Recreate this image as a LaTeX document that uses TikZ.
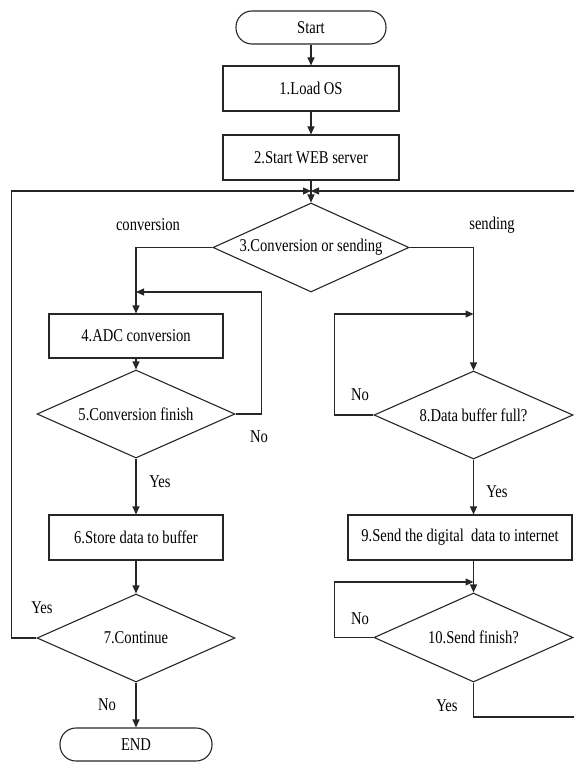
\documentclass[tikz,border=0pt]{standalone}
\usepackage{fontspec}
\setmainfont{Liberation Serif}[FakeStretch=0.81]
\usetikzlibrary{shapes.geometric,arrows.meta}
\begin{document}
\begin{tikzpicture}[x=1pt,y=-1pt,
  font=\fontsize{18}{20}\selectfont,
  every node/.style={inner sep=0pt},
  ln/.style={draw=black!85, line width=1.1pt},
  boxn/.style={ln, rectangle, minimum height=45pt},
  term/.style={ln, rectangle, rounded corners=16pt, minimum width=150pt, minimum height=33pt},
  dia/.style={ln, diamond, aspect=2.2, minimum width=198pt, minimum height=88pt},
  con/.style={draw=black!85, line width=1.1pt},
  arr/.style={con, -{Triangle[length=8pt,width=7pt]}}
]
\useasboundingbox (0,0) rectangle (574,762);
\clip (0,0) rectangle (574,762);

% main column
\node[term] (start) at (311,27.5) {Start};
\node[boxn, minimum width=176pt] (b1) at (311,88.5) {1.Load OS};
\node[boxn, minimum width=176pt] (b2) at (311,157.5) {2.Start WEB server};
\coordinate (J) at (311,191);
\node[dia, minimum width=196pt, minimum height=89pt] (d3) at (311,247.5) {3.Conversion or sending};

% left column
\node[boxn, minimum width=174pt, minimum height=44pt] (b4) at (136,336) {4.ADC conversion};
\node[dia] (d5) at (136,414) {5.Conversion finish};
\node[boxn, minimum width=174pt] (b6) at (136,537.5) {6.Store data to buffer};
\node[dia] (d7) at (136,638) {7.Continue};
\node[term, minimum width=152pt] (end) at (136,744.5) {END};

% right column
\node[dia, minimum width=199pt] (d8) at (473.5,415) {8.Data buffer full?};
\node[boxn, minimum width=224pt] (b9) at (460,537.5) {9.Send the digital\ \ data to internet};
\node[dia, minimum width=199pt, minimum height=89pt] (d10) at (473.5,637.5) {10.Send finish?};

% labels
\node (lconv) at (148,225) {conversion};
\node (lsend) at (492,225) {sending};
\node (no5) at (259,437) {No};
\node (yes5) at (160,482) {Yes};
\node (yes7) at (42,608) {Yes};
\node (no7) at (107,705) {No};
\node (no8) at (360,395) {No};
\node (yes8) at (497,492) {Yes};
\node (no10) at (360,619) {No};
\node (yes10) at (447,706) {Yes};

% connectors
\draw[arr] (start) -- (b1);
\draw[arr] (b1) -- (b2);
\draw[con] (b2) -- (J);
\draw[arr] (J) -- (d3);
\draw[arr] (d7.west) -- ++(-25,0) |- (J);
\coordinate (rr) at (585,717);
\draw[arr] (d10.south) |- (rr) |- (J);
\draw[arr] (d3.west) -| (b4.north);
\draw[arr] (d3.east) -| (d8.north);
\draw[arr] (b4) -- (d5);
\coordinate (m4) at (136,292);
\draw[arr] (d5.east) -- ++(26,0) |- (m4);
\draw[arr] (d5) -- (b6);
\draw[arr] (b6) -- (d7);
\draw[arr] (d7) -- (end);
\coordinate (m8) at (473.5,314);
\draw[arr] (d8.west) -- ++(-39,0) |- (m8);
\draw[arr] (d8.south) -- (d8.south |- b9.north);
\draw[arr] (b9.south -| d10.north) -- (d10.north);
\coordinate (m10) at (473.5,582);
\draw[arr] (d10.west) -- ++(-39,0) |- (m10);
\end{tikzpicture}
\end{document}
